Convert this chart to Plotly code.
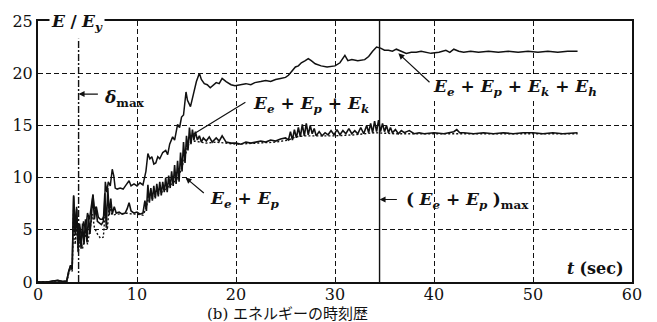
import plotly.graph_objects as go

# ---- energy time histories (E / Ey) ----
# Ee + Ep + Ek + Eh  (total input energy)
t_total = [0.0, 1.0, 1.5, 2.0, 2.5, 2.9, 3.1, 3.3, 3.45, 3.6, 3.75, 3.9, 4.05, 4.2, 4.4, 4.6, 4.8,
           5.0, 5.2, 5.4, 5.55, 5.7, 5.9, 6.1, 6.3, 6.5, 6.7, 6.8, 6.95, 7.1, 7.3, 7.5, 7.65, 7.8,
           8.0, 8.3, 8.6, 8.9, 9.2, 9.4, 9.7, 10.0, 10.3, 10.6, 10.9, 11.1, 11.3, 11.5, 11.7, 11.9,
           12.1, 12.3, 12.6, 12.9, 13.1, 13.3, 13.6, 13.8, 14.1, 14.3, 14.5, 14.7, 14.85, 14.95,
           15.1, 15.4, 15.7, 16.0, 16.3, 16.5, 16.8, 17.1, 17.4, 17.7, 18.0, 18.3, 18.6, 19.0, 19.5,
           19.9, 20.5, 21.0, 21.5, 21.9, 22.5, 23.0, 23.5, 24.0, 24.5, 25.0, 25.3, 25.7, 26.0, 26.3,
           26.6, 27.0, 27.3, 27.6, 28.0, 28.6, 29.2, 30.0, 30.5, 31.0, 31.3, 31.7, 32.3, 33.0, 33.4,
           33.8, 34.2, 34.6, 35.0, 35.4, 35.8, 36.2, 36.7, 37.2, 37.7, 38.2, 38.7, 39.2, 39.7, 40.5,
           41.2, 41.6, 42.0, 42.5, 43.0, 43.7, 44.5, 45.5, 46.5, 47.5, 48.5, 49.5, 50.5, 51.5, 52.5,
           53.5, 54.5]
e_total = [0.0, 0.0, 0.1, 0.15, 0.05, 0.1, 1.0, 1.6, 1.2, 8.3, 5.0, 7.2, 3.6, 5.6, 4.2, 5.8, 5.0,
           6.6, 6.0, 7.4, 8.4, 7.0, 7.2, 6.2, 6.0, 6.0, 6.4, 9.6, 8.6, 9.6, 9.2, 10.8, 10.2, 9.0,
           8.9, 9.0, 8.9, 9.3, 9.7, 9.2, 9.4, 9.2, 9.5, 9.3, 10.6, 12.3, 11.8, 12.0, 11.3, 11.4,
           12.0, 11.8, 12.4, 12.6, 12.2, 13.2, 13.9, 13.6, 15.1, 14.8, 15.8, 16.0, 17.6, 18.2,
           17.4, 16.8, 18.0, 19.2, 20.0, 19.4, 19.0, 18.9, 18.6, 18.9, 19.1, 19.0, 19.5, 19.2, 18.9,
           18.8, 18.9, 19.0, 18.9, 19.1, 19.2, 19.3, 19.2, 19.4, 19.5, 19.6, 19.8, 20.2, 20.6, 20.7,
           21.0, 21.2, 21.4, 21.2, 20.9, 20.7, 20.6, 20.7, 21.0, 21.7, 21.2, 21.3, 21.2, 21.3, 21.6,
           22.1, 22.5, 22.4, 22.2, 22.2, 22.1, 22.3, 22.1, 21.9, 22.0, 22.0, 22.1, 22.0, 21.9, 22.0,
           22.2, 22.0, 22.3, 22.1, 22.0, 22.1, 22.0, 22.1, 22.0, 22.1, 22.0, 22.1, 22.0, 22.1, 22.0,
           22.1, 22.1]

# Ee + Ep + Ek
t_epk = [0.0, 1.0, 1.5, 2.0, 2.5, 2.9, 3.1, 3.3, 3.45, 3.6, 3.75, 3.9, 4.05, 4.2, 4.35, 4.5, 4.65,
         4.8, 4.95, 5.1, 5.25, 5.4, 5.55, 5.7, 5.85, 6.0, 6.2, 6.4, 6.6, 6.75, 6.9, 7.05, 7.2, 7.35,
         7.5, 7.7, 7.9, 8.2, 8.5, 8.8, 9.0, 9.2, 9.4, 9.7, 10.0, 10.3, 10.6, 10.8, 10.95, 11.1,
         11.25, 11.4, 11.55, 11.7, 11.85, 12.0, 12.15, 12.3, 12.45, 12.6, 12.75, 12.9, 13.05, 13.2,
         13.35, 13.5, 13.65, 13.8, 13.95, 14.1, 14.25, 14.4, 14.55, 14.7, 14.85, 15.0, 15.15, 15.3,
         15.45, 15.6, 15.75, 15.9, 16.1, 16.3, 16.5, 16.7, 17.0, 17.3, 17.6, 18.0, 18.3, 18.6, 19.0,
         19.5, 20.0, 20.5, 21.0, 21.5, 22.0, 22.5, 23.0, 23.5, 24.0, 24.5, 25.0, 25.3, 25.5, 25.7,
         25.9, 26.1, 26.3, 26.5, 26.7, 26.9, 27.1, 27.3, 27.5, 27.7, 27.9, 28.1, 28.4, 28.7, 29.0,
         29.3, 29.6, 29.9, 30.2, 30.5, 30.8, 31.1, 31.4, 31.7, 32.0, 32.3, 32.6, 32.9, 33.2, 33.4,
         33.6, 33.8, 34.0, 34.2, 34.4, 34.6, 34.8, 35.0, 35.2, 35.4, 35.6, 35.8, 36.1, 36.4, 36.7,
         37.0, 37.5, 38.0, 38.5, 39.0, 40.0, 41.0, 42.0, 42.3, 42.6, 43.0, 44.0, 45.0, 46.0, 47.0,
         48.0, 49.0, 50.0, 51.0, 52.0, 53.0, 54.5]
e_epk = [0.0, 0.0, 0.1, 0.15, 0.05, 0.1, 1.0, 1.6, 1.2, 8.2, 4.5, 7.0, 3.0, 5.2, 3.2, 5.6, 3.6,
         6.0, 3.8, 6.4, 4.6, 7.0, 8.3, 6.0, 7.2, 5.8, 5.6, 5.5, 5.8, 8.5, 5.2, 9.0, 6.4, 8.0,
         6.5, 7.2, 6.6, 6.7, 6.5, 6.6, 7.0, 7.6, 6.8, 6.6, 6.7, 6.5, 6.6, 7.8, 6.8, 9.3,
         7.6, 9.0, 7.8, 9.2, 8.0, 9.4, 8.2, 9.6, 8.3, 9.6, 8.6, 10.0, 8.6, 10.2,
         9.0, 10.6, 9.2, 11.2, 9.4, 11.6, 9.6, 12.4, 10.6, 13.4, 11.4, 14.0, 12.6, 14.8,
         13.2, 14.6, 13.6, 14.4, 13.6, 14.0, 13.4, 13.8, 13.5, 13.9, 13.4, 13.8, 13.5, 14.0, 13.4,
         13.3, 13.3, 13.2, 13.4, 13.3, 13.4, 13.5, 13.4, 13.6, 13.5, 13.7, 13.8, 13.6, 14.4, 13.6,
         14.6, 13.8, 14.8, 13.9, 15.1, 14.0, 15.2, 14.1, 15.0, 14.2, 14.7, 14.0, 14.4, 14.0, 14.3,
         14.1, 14.5, 14.1, 14.6, 14.1, 14.5, 14.2, 14.7, 14.2, 14.5, 14.2, 14.8, 14.2, 15.0, 14.3,
         15.2, 14.3, 15.4, 14.4, 15.5, 14.4, 15.2, 14.4, 15.0, 14.3, 14.8, 14.3, 14.6, 14.2, 14.5,
         14.3, 14.5, 14.2, 14.3, 14.2, 14.3, 14.2, 14.4, 14.6, 14.3, 14.3, 14.2, 14.3, 14.2, 14.3,
         14.2, 14.3, 14.3, 14.2, 14.3, 14.2, 14.3]

# Ee + Ep
t_ep = [0.0, 2.9, 3.1, 3.3, 3.45, 3.6, 3.75, 3.9, 4.05, 4.3, 4.5, 4.8, 5.0, 5.3, 5.5, 5.7, 6.0,
        6.3, 6.6, 6.8, 7.0, 7.2, 7.5, 8.0, 9.0, 9.5, 10.0, 10.6, 10.9, 11.2, 11.6, 12.0, 12.5,
        13.0, 13.5, 14.0, 14.4, 14.8, 15.1, 15.4, 15.8, 16.3, 17.0, 18.0, 19.0, 20.0, 22.0, 24.0,
        25.3, 26.0, 27.0, 28.0, 30.0, 32.0, 34.0, 36.0, 40.0, 45.0, 50.0, 54.5]
e_ep = [0.0, 0.0, 0.8, 1.4, 1.0, 7.0, 3.6, 5.5, 2.8, 4.2, 3.2, 4.8, 3.6, 5.4, 6.5, 5.2, 4.6,
        4.2, 4.3, 6.8, 5.0, 7.4, 6.4, 6.5, 6.6, 6.5, 6.5, 6.4, 7.0, 8.2, 8.0, 8.4, 8.6,
        9.0, 9.4, 9.8, 10.6, 11.8, 13.0, 13.4, 13.5, 13.4, 13.3, 13.4, 13.3, 13.2, 13.3, 13.4,
        13.6, 13.9, 14.0, 14.0, 14.0, 14.1, 14.3, 14.2, 14.2, 14.2, 14.2, 14.2]

# instants marked on the time axis
t_delta_max = 4.1
t_ep_max = 34.5

x_ticks = [0, 10, 20, 30, 40, 50, 60]
y_ticks = [0, 5, 10, 15, 20, 25]

SERIF = "DejaVu Serif, Liberation Serif, serif"
BLACK = "#111111"

fig = go.Figure()
fig.add_trace(go.Scatter(x=t_ep, y=e_ep, mode="lines",
                         line=dict(color=BLACK, width=1.4, dash="2px,2px")))
fig.add_trace(go.Scatter(x=t_epk, y=e_epk, mode="lines",
                         line=dict(color=BLACK, width=1.6)))
fig.add_trace(go.Scatter(x=t_total, y=e_total, mode="lines",
                         line=dict(color=BLACK, width=1.5)))

# vertical markers
fig.add_shape(type="line", x0=t_delta_max, x1=t_delta_max, y0=0, y1=23.3,
              line=dict(color=BLACK, width=1.4, dash="7px,2px,2px,2px"))
fig.add_shape(type="line", x0=t_ep_max, x1=t_ep_max, y0=0, y1=25,
              line=dict(color=BLACK, width=1.4))

def arrow(x_tip, y_tip, x_tail, y_tail, head=True):
    fig.add_annotation(x=x_tip, y=y_tip, ax=x_tail, ay=y_tail, xref="x", yref="y",
                       axref="x", ayref="y", text="", showarrow=True,
                       arrowhead=2 if head else 0, arrowsize=1.0, arrowwidth=1.2,
                       arrowcolor=BLACK)

def label(x, y, text, size=17, anchor="left", bg=None, yshift=0):
    fig.add_annotation(x=x, y=y, xref="x", yref="y", text=text, showarrow=False,
                       xanchor=anchor, yanchor="middle", yshift=yshift,
                       font=dict(family=SERIF, size=size, color=BLACK),
                       bgcolor=bg, borderpad=1)

E = "<b><i>E</i></b>"
def sub(s):
    return "<sub><b><i>" + s + "</i></b></sub>"

arrow(t_delta_max, 18.0, 6.2, 18.0)
label(6.5, 17.6, "<b><i>δ</i></b><sub><b>max</b></sub>", size=17)

arrow(t_ep_max, 7.9, 36.4, 7.9)
label(37.0, 7.8, "<b>(</b> " + E + sub("e") + "<b> + </b>" + E + sub("p") + " <b>)</b><sub><b>max</b></sub>", size=17)

arrow(36.4, 21.9, 39.7, 19.0)
label(39.7, 18.6, E + sub("e") + "<b> + </b>" + E + sub("p") + "<b> + </b>" + E + sub("k")
      + "<b> + </b>" + E + sub("h"), size=17, bg="white")

arrow(15.6, 14.1, 21.1, 17.3, head=False)
label(21.5, 17.0, E + sub("e") + "<b> + </b>" + E + sub("p") + "<b> + </b>" + E + sub("k"), size=17)

arrow(14.9, 10.0, 16.9, 8.4)
label(17.2, 7.9, E + sub("e") + "<b> + </b>" + E + sub("p"), size=17)

label(59.4, 1.3, "<b><i>t</i></b> <b>(sec)</b>", size=16, anchor="right")

# axis label sitting on the top frame
label(1.1, 25, E + " <b>/</b> " + E + sub("y"), size=17, bg="white", yshift=-1)

# caption
fig.add_annotation(x=0.42, y=0, xref="paper", yref="paper", text="(b) エネルギーの時刻歴",
                   showarrow=False, xanchor="center", yanchor="middle", yshift=-32,
                   font=dict(family="DejaVu Serif, Noto Sans CJK JP", size=15, color=BLACK))

grid = dict(showgrid=True, gridcolor=BLACK, gridwidth=1, griddash="5px,3px",
            showline=True, linecolor=BLACK, linewidth=2, mirror=True, zeroline=False,
            ticks="", tickfont=dict(family=SERIF, size=16, color=BLACK))

fig.update_xaxes(range=[0, 60], tickvals=x_ticks, ticktext=[str(v) for v in x_ticks],
                 ticklabelstandoff=-3, **grid)
fig.update_yaxes(range=[0, 25], tickvals=y_ticks, ticktext=[str(v) for v in y_ticks], **grid)

fig.update_layout(width=657, height=322, margin=dict(l=35, r=25, t=13, b=40),
                  plot_bgcolor="white", paper_bgcolor="white", showlegend=False)

fig.write_html("out.html")
